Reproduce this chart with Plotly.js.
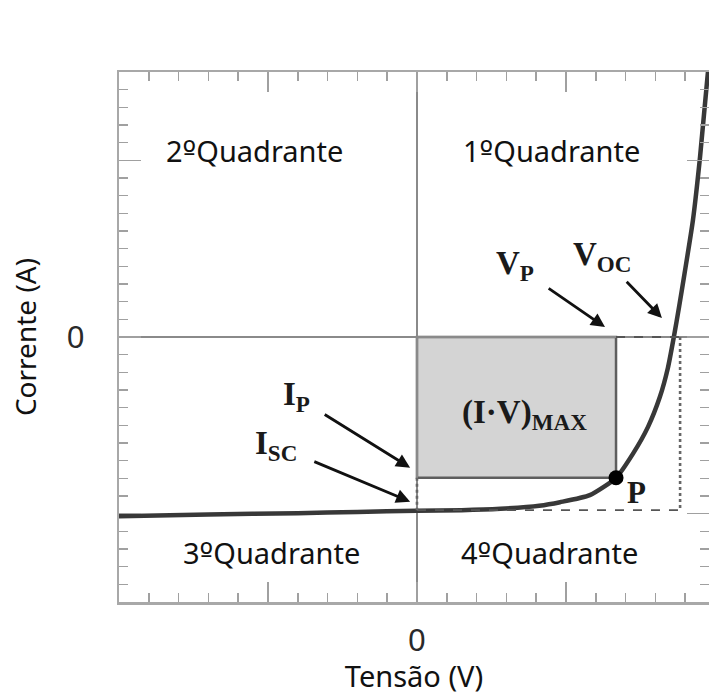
<!DOCTYPE html>
<html>
<head>
<meta charset="utf-8">
<script src="https://cdn.plot.ly/plotly-3.0.1.min.js"></script>
<style>html,body{margin:0;padding:0;background:#fff;}#chart{width:709px;height:695px;}</style>
</head>
<body>
<div id="chart"></div>
<script>
// I-V curve of a photovoltaic cell
const tensao = [-10, -7, -4, -2, 0, 1.5, 2.8, 4.1, 4.8, 5.8, 6.68, 7.25, 7.75, 8.15, 8.42, 8.62, 8.8, 8.98, 9.26, 9.5, 9.77];
const corrente = [-10.15, -10.05, -9.97, -9.9, -9.83, -9.8, -9.72, -9.55, -9.35, -8.95, -7.97, -6.6, -5.1, -3.4, -1.75, 0, 1.75, 3.6, 6.6, 10.2, 15.1];

// characteristic points
const Vp = 6.68;   // maximum power voltage
const Ip = -7.97;  // maximum power current
const Voc = 8.83;  // open-circuit voltage
const Isc = -9.8;  // short-circuit current

const quadrantes = ['1ºQuadrante', '2ºQuadrante', '3ºQuadrante', '4ºQuadrante'];
const quadX = [4.53, -5.44, -4.87, 4.46];
const quadY = [10.56, 10.56, -12.2, -12.2];

const xTickVals = [0];
const xTickText = ['0'];
const yTickVals = [0];
const yTickText = ['0'];
const xMajorTicks = [-5, 5];
const yMajorTicks = [-10, 10];

const FONT = 'Noto Sans, Open Sans, sans-serif';
const SERIF = 'Liberation Serif, Times New Roman, serif';
const ORD = '<span style="font-family:DejaVu Sans">º</span>';

const curve = {
  x: tensao, y: corrente, type: 'scatter', mode: 'lines',
  line: {color: '#383838', width: 4.5, shape: 'spline', smoothing: 0.6},
  hoverinfo: 'skip', showlegend: false
};
const pontoP = {
  x: [Vp], y: [Ip], type: 'scatter', mode: 'markers',
  marker: {color: '#000', size: 15}, showlegend: false, hoverinfo: 'skip'
};
const eixoAux = {
  x: [0], y: [0], xaxis: 'x2', yaxis: 'y2', type: 'scatter', mode: 'markers',
  marker: {opacity: 0}, showlegend: false, hoverinfo: 'skip'
};

const shapes = [
  {type: 'rect', xref: 'x', yref: 'y', x0: 0, x1: Vp, y0: Ip, y1: 0,
   fillcolor: '#d4d4d4', line: {color: '#5e5e5e', width: 2.5}, layer: 'below'},
  {type: 'line', x0: Vp, x1: Voc, y0: 0, y1: 0, line: {color: '#555', width: 1.8, dash: 'dash'}},
  {type: 'line', x0: Voc, x1: Voc, y0: 0, y1: Isc, line: {color: '#666', width: 2.6, dash: 'dot'}},
  {type: 'line', x0: 0, x1: Voc, y0: Isc, y1: Isc, line: {color: '#555', width: 1.8, dash: 'dash'}},
  {type: 'line', x0: 0, x1: 0, y0: Ip, y1: Isc, line: {color: '#666', width: 2.6, dash: 'dot'}}
];

const annotations = [];
for (let i = 0; i < quadrantes.length; i++) {
  annotations.push({x: quadX[i], y: quadY[i], xref: 'x', yref: 'y',
    text: quadrantes[i].replace('º', ORD),
    showarrow: false, font: {family: FONT, size: 29, color: '#111'}});
}
// labels with their arrows: (x, y) is the arrow head, (ax, ay) the text centre offset in px
function seta(hx, hy, ax, ay, text, gap) {
  return {x: hx, y: hy, xref: 'x', yref: 'y', text: text, showarrow: true,
    ax: ax, ay: ay, arrowhead: 2, arrowsize: 1, arrowwidth: 2.8, arrowcolor: '#111',
    startstandoff: gap, font: {family: SERIF, size: 33, color: '#1a1a1a'}};
}
annotations.push(seta(6.31, 0.56, -90, -62, '<b>V<sub>P</sub></b>', 16));
annotations.push(seta(8.22, 1.07, -60, -62, '<b>V<sub>OC</sub></b>', 5));
annotations.push(seta(-0.23, -7.4, -114, -71, '<b>I<sub>P</sub></b>', 16));
annotations.push(seta(-0.23, -9.32, -134, -56, '<b>I<sub>SC</sub></b>', 17));

function label(x, y, text, size) {
  return {x: x, y: y, xref: 'x', yref: 'y', text: text, showarrow: false,
    font: {family: SERIF, size: size, color: '#1a1a1a'}};
}
annotations.push(label(3.62, -4.41, '<b>(I·V)<sub>MAX</sub></b>', 33));
annotations.push(label(7.38, -8.8, '<b>P</b>', 31));

const tickCol = '#a0a0a0';
const lineCol = '#a8a8a8';
const tickFont = {family: 'Liberation Sans, Arial, sans-serif', size: 31, color: '#2a2a2a'};

const layout = {
  width: 709, height: 695,
  margin: {l: 119, r: 0, t: 72, b: 93},
  paper_bgcolor: '#fff', plot_bgcolor: '#fff',
  showlegend: false,
  xaxis: {
    range: [-10, 9.8], showgrid: false,
    zeroline: true, zerolinecolor: '#8a8a8a', zerolinewidth: 1.5,
    showline: true, linecolor: lineCol, linewidth: 2.5, mirror: 'ticks',
    ticks: 'inside', ticklen: 20, tickwidth: 1.5, tickcolor: tickCol,
    tickmode: 'array', tickvals: xTickVals, ticktext: xTickText,
    ticklabelstandoff: 9, tickfont: tickFont,
    minor: {tickmode: 'linear', tick0: 0, dtick: 1, ticks: 'inside', ticklen: 9, tickwidth: 1.5, tickcolor: tickCol},
    title: {text: 'Tensão (V)', font: {family: FONT, size: 29, color: '#111'}, standoff: 6},
    fixedrange: true
  },
  yaxis: {
    range: [-15, 15], showgrid: false,
    zeroline: true, zerolinecolor: '#8a8a8a', zerolinewidth: 1.5,
    showline: true, linecolor: lineCol, linewidth: 2.5, mirror: 'ticks',
    ticks: 'inside', ticklen: 22, tickwidth: 1.5, tickcolor: tickCol,
    tickmode: 'array', tickvals: yTickVals, ticktext: yTickText,
    ticklabelstandoff: 26, tickfont: tickFont,
    minor: {tickmode: 'linear', tick0: 0, dtick: 1, ticks: 'inside', ticklen: 9, tickwidth: 1.5, tickcolor: tickCol},
    title: {text: 'Corrente (A)', font: {family: FONT, size: 28, color: '#111'}, standoff: 22},
    fixedrange: true
  },
  xaxis2: {
    overlaying: 'x', range: [-10, 9.8], showgrid: false, zeroline: false,
    showline: true, linecolor: lineCol, linewidth: 2.5, mirror: 'ticks',
    ticks: 'inside', ticklen: 20, tickwidth: 1.5, tickcolor: tickCol,
    tickmode: 'array', tickvals: xMajorTicks, showticklabels: false, fixedrange: true
  },
  yaxis2: {
    overlaying: 'y', range: [-15, 15], showgrid: false, zeroline: false,
    showline: true, linecolor: lineCol, linewidth: 2.5, mirror: 'ticks',
    ticks: 'inside', ticklen: 22, tickwidth: 1.5, tickcolor: tickCol,
    tickmode: 'array', tickvals: yMajorTicks, showticklabels: false, fixedrange: true
  },
  shapes: shapes,
  annotations: annotations
};

Plotly.newPlot('chart', [curve, pontoP, eixoAux], layout, {staticPlot: true, displayModeBar: false});
</script>
</body>
</html>
